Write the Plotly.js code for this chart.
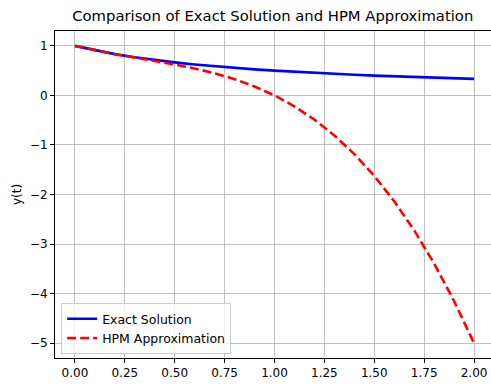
<!DOCTYPE html>
<html><head><meta charset="utf-8">
<script src="https://cdn.plot.ly/plotly-3.0.1.min.js"></script>
<style>html,body{margin:0;padding:0;overflow:hidden;background:#fff}</style>
</head><body><div id="chart"></div>
<script>
const tValues = [0,0.1,0.2,0.3,0.4,0.5,0.6,0.7,0.8,0.9,1.0,1.1,1.2,1.3,1.4,1.5,1.6,1.7,1.8,1.9,2.0];
const exactValues = [1,0.909,0.833,0.769,0.714,0.667,0.625,0.588,0.556,0.526,0.5,0.476,0.455,0.435,0.417,0.4,0.385,0.370,0.357,0.345,0.333];
const hpmValues = [1,0.909,0.832,0.763,0.696,0.625,0.544,0.447,0.328,0.181,0,-0.221,-0.488,-0.807,-1.184,-1.625,-2.136,-2.723,-3.392,-4.149,-5.0];
const xTickVals = [0,0.25,0.5,0.75,1,1.25,1.5,1.75,2];
const xTickText = ["0.00","0.25","0.50","0.75","1.00","1.25","1.50","1.75","2.00"];
const yTickVals = [-5,-4,-3,-2,-1,0,1];
const yTickText = ["\u22125","\u22124","\u22123","\u22122","\u22121","0","1"];

const font = {family: "DejaVu Sans", color: "#000", size: 12};
const traces = [
  {x: tValues, y: exactValues, mode: "lines", name: "Exact Solution",
   line: {color: "#0000ff", width: 2.6}},
  {x: tValues, y: hpmValues, mode: "lines", name: "HPM Approximation",
   line: {color: "#ff0000", width: 2.6, dash: "9px,4px"}}
];
const axisCommon = {showline: true, linecolor: "#000", linewidth: 1, mirror: true,
  ticks: "outside", ticklen: 4, tickcolor: "#000", tickwidth: 1,
  showgrid: true, gridcolor: "#b0b0b0", gridwidth: 0.8, zeroline: false,
  tickfont: font};
const layout = {
  width: 495, height: 401,
  margin: {l: 55, r: 1, t: 31, b: 43},
  paper_bgcolor: "#fff", plot_bgcolor: "#fff",
  font: font,
  title: {text: "Comparison of Exact Solution and HPM Approximation",
    font: {family: "DejaVu Sans", size: 14.8, color: "#000"}, x: 0.551, xanchor: "center", y: 18, yref: "container", yanchor: "middle"},
  xaxis: Object.assign({}, axisCommon, {range: [-0.1, 2.1], tickvals: xTickVals, ticktext: xTickText,
    title: {text: "t", font: font, standoff: 20}}),
  yaxis: Object.assign({}, axisCommon, {range: [-5.3, 1.3], tickvals: yTickVals, ticktext: yTickText,
    title: {text: "y(t)", font: font, standoff: 5}}),
  showlegend: true,
  legend: {x: 0.014, y: 0.012, xanchor: "left", yanchor: "bottom",
    bgcolor: "rgba(255,255,255,0.8)", bordercolor: "#cccccc", borderwidth: 1,
    itemwidth: 30,
    font: {family: "DejaVu Sans", size: 12.5, color: "#000"}, tracegroupgap: 0}
};
Plotly.newPlot("chart", traces, layout, {displayModeBar: false, staticPlot: true});
</script></body></html>
